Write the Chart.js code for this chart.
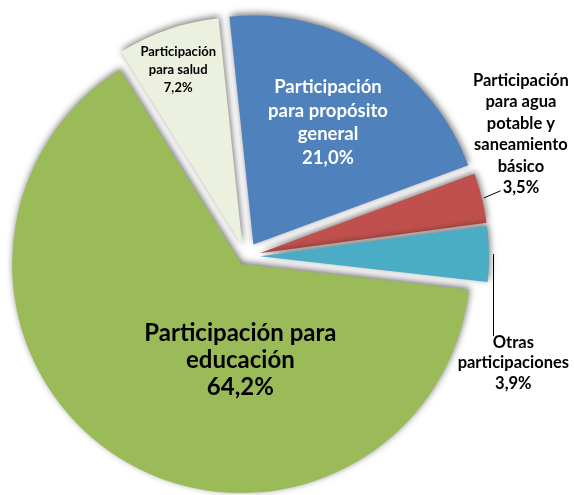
<!DOCTYPE html>
<html>
<head>
<meta charset="utf-8">
<script src="https://cdn.jsdelivr.net/npm/chart.js@4.4.1/dist/chart.umd.min.js"></script>
<style>
  html, body { margin: 0; padding: 0; background: #ffffff; }
  #wrap { width: 574px; height: 495px; position: relative; }
</style>
</head>
<body>
<div id="wrap"><canvas id="pie"></canvas></div>
<script>
// Composición de las participaciones (porcentajes)
const categories = [
  'Participación para propósito general',
  'Participación para agua potable y saneamiento básico',
  'Otras participaciones',
  'Participación para educación',
  'Participación para salud'
];
const shares = [21.0, 3.5, 3.9, 64.2, 7.2];

// Texto de cada etiqueta (líneas), el porcentaje se añade al final
const labelLines = [
  ['Participación', 'para propósito', 'general'],
  ['Participación', 'para agua', 'potable y', 'saneamiento', 'básico'],
  ['Otras', 'participaciones'],
  ['Participación para', 'educación'],
  ['Participación', 'para salud']
];

// Estilo de cada porción
const sliceColors = ['#4F81BD', '#C0504D', '#4BACC6', '#9BBB59', '#EBF1DE'];
const explode = [14, 14, 14, 9, 11];          // separación radial en px

// Colocación de etiquetas: ángulo (grados, horario desde arriba) y distancia relativa al radio
const labelPlace = [
  { deg: 31.4, dist: 0.625, size: 18.5, lh: 23.5, color: '#ffffff' },
  { deg: 65.5, dist: 1.254, size: 16.5, lh: 21.5, color: '#000000', leader: 'h' },
  { deg: 112.8, dist: 1.2, size: 16.5, lh: 20.5, color: '#000000', leader: 'v' },
  { deg: 180.5, dist: 0.42, size: 24, lh: 27, color: '#000000' },
  { deg: 340, dist: 0.82, size: 13, lh: 18, color: '#000000' }
];

const FONT = 'Lato, "Open Sans", "DejaVu Sans", sans-serif';

const fmt = v => v.toFixed(1).replace('.', ',') + '%';

function sliceCenter(arc, i) {
  const mid = (arc.startAngle + arc.endAngle) / 2;
  return { x: arc.x + Math.cos(mid) * explode[i], y: arc.y + Math.sin(mid) * explode[i], mid };
}

// Dibuja cada porción desplazada hacia afuera con sombra suave
const explodedSlices = {
  id: 'explodedSlices',
  beforeDatasetDraw(chart, args) {
    const ctx = chart.ctx;
    args.meta.data.forEach((arc, i) => {
      const c = sliceCenter(arc, i);
      ctx.save();
      ctx.translate(c.x - arc.x, c.y - arc.y);
      ctx.shadowColor = 'rgba(0,0,0,0.55)';
      ctx.shadowBlur = 7;
      ctx.shadowOffsetX = 1;
      ctx.shadowOffsetY = -2;
      arc.draw(ctx);
      ctx.restore();
    });
    return false;
  }
};

// Etiquetas con nombre y porcentaje, con líneas guía para las externas
const sliceLabels = {
  id: 'sliceLabels',
  afterDatasetsDraw(chart) {
    const ctx = chart.ctx;
    const meta = chart.getDatasetMeta(0);
    meta.data.forEach((arc, i) => {
      const p = labelPlace[i];
      const c = sliceCenter(arc, i);
      const R = arc.outerRadius;
      const a = (p.deg - 90) * Math.PI / 180;
      const lx = c.x + Math.cos(a) * R * p.dist;
      const ly = c.y + Math.sin(a) * R * p.dist;
      const lines = labelLines[i].concat([fmt(shares[i])]);
      const top = ly - (lines.length * p.lh) / 2;
      ctx.save();
      ctx.font = 'bold ' + p.size + 'px ' + FONT;
      ctx.fillStyle = p.color;
      ctx.textAlign = 'center';
      ctx.textBaseline = 'middle';
      lines.forEach((t, k) => ctx.fillText(t, lx, top + p.lh * (k + 0.5)));

      if (p.leader) {
        const ex = c.x + Math.cos(c.mid) * R;
        const ey = c.y + Math.sin(c.mid) * R;
        ctx.strokeStyle = '#000000';
        ctx.lineWidth = 1;
        ctx.beginPath();
        if (p.leader === 'h') {
          const last = lines[lines.length - 1];
          const w = ctx.measureText(last).width;
          const tx = lx - w / 2 - 2;
          const ty = top + p.lh * (lines.length - 0.5) + 3;
          ctx.moveTo(ex + 2, ey);
          ctx.lineTo(tx, ty);
        } else {
          const first = lines[0];
          const w = ctx.measureText(first).width;
          const x0 = Math.round(lx - w / 2) + 0.5;
          ctx.moveTo(x0, ey);
          ctx.lineTo(x0, top + 4);
        }
        ctx.stroke();
      }
      ctx.restore();
    });
  }
};

new Chart(document.getElementById('pie'), {
  type: 'pie',
  data: {
    labels: categories,
    datasets: [{
      data: shares,
      backgroundColor: sliceColors,
      borderWidth: 0
    }]
  },
  options: {
    responsive: true,
    maintainAspectRatio: false,
    animation: false,
    rotation: -6,
    layout: { padding: { left: 17, right: 99, top: 27.5, bottom: 9.5 } },
    plugins: {
      legend: { display: false },
      tooltip: { enabled: false }
    }
  },
  plugins: [explodedSlices, sliceLabels]
});
</script>
</body>
</html>
